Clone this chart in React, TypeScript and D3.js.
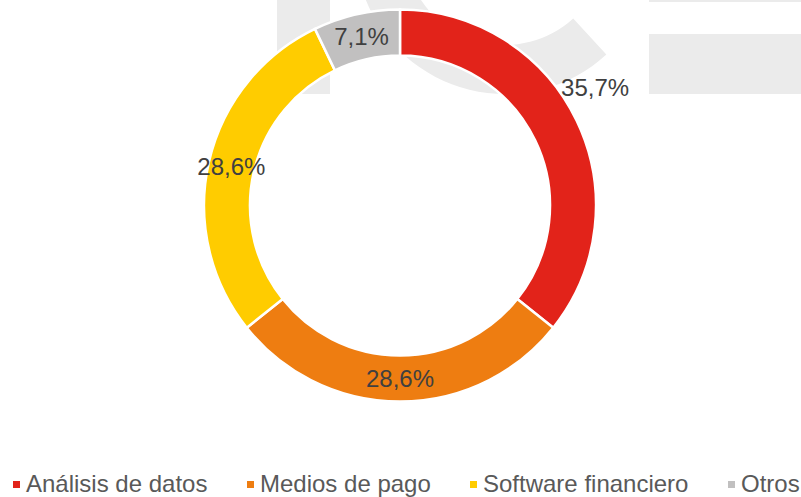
import React, { useEffect } from "react";
import * as d3 from "d3";

const categories = ["Análisis de datos", "Medios de pago", "Software financiero", "Otros"];
const values = [5, 4, 4, 1];
const colors = ["#E2231A", "#EE7D11", "#FFCC00", "#C1C0C0"];

const W = 801;
const H = 497;
const cx = 400;
const cy = 205.5;
const outerR = 196;
const innerR = 150;
const FONT = "'Liberation Sans', Arial, sans-serif";

export default function App() {
  useEffect(() => {
    document.body.style.margin = "0";
  }, []);

  const total = d3.sum(values);
  const pie = d3.pie<number>().sort(null).value((d) => d);
  const arcs = pie(values);
  const arcGen = d3.arc<d3.PieArcDatum<number>>().innerRadius(innerR).outerRadius(outerR);
  const fmt = (v: number) => (d3.format(".1f")((v / total) * 100)).replace(".", ",") + "%";

  // watermark ring (decorative)
  const ringArc = d3.arc()({
    innerRadius: 101,
    outerRadius: 150,
    startAngle: (137.5 * Math.PI) / 180,
    endAngle: (250 * Math.PI) / 180,
  } as any) as string;

  const fontSize = 24;
  const legendStarts = [13, 247, 470, 728];

  return (
    <svg width={W} height={H} style={{ position: "absolute", left: 0, top: 0, display: "block" }} fontFamily={FONT}>
      <rect x={0} y={0} width={W} height={H} fill="#fff" />
      <g fill="#EBEBEB">
        <rect x={277} y={0} width={53} height={94} />
        <path d={ringArc} transform="translate(505,-56)" />
        <rect x={649} y={0} width={152} height={2} />
        <rect x={649} y={34} width={152} height={60} />
      </g>
      <g transform={`translate(${cx},${cy})`}>
        {arcs.map((a, i) => (
          <path key={i} d={arcGen(a) as string} fill={colors[i]} stroke="#fff" strokeWidth={2.5} />
        ))}
        {arcs.map((a, i) => {
          let [x, y] = arcGen.centroid(a);
          if (i === 0) {
            const ang = (a.startAngle + a.endAngle) / 2 - 0.095;
            const r = outerR + 32;
            x = r * Math.sin(ang);
            y = -r * Math.cos(ang);
          }
          return (
            <text key={i} x={x} y={y} dy="0.35em" textAnchor="middle" fontSize={fontSize} fill="#404040">
              {fmt(values[i])}
            </text>
          );
        })}
      </g>
      <g>
        {categories.map((c, i) => (
          <g key={c} transform={`translate(${legendStarts[i]},0)`}>
            <rect x={0} y={481} width={7} height={7} fill={colors[i]} />
            <text x={13} y={492} fontSize={fontSize} fill="#595959">
              {c}
            </text>
          </g>
        ))}
      </g>
    </svg>
  );
}
